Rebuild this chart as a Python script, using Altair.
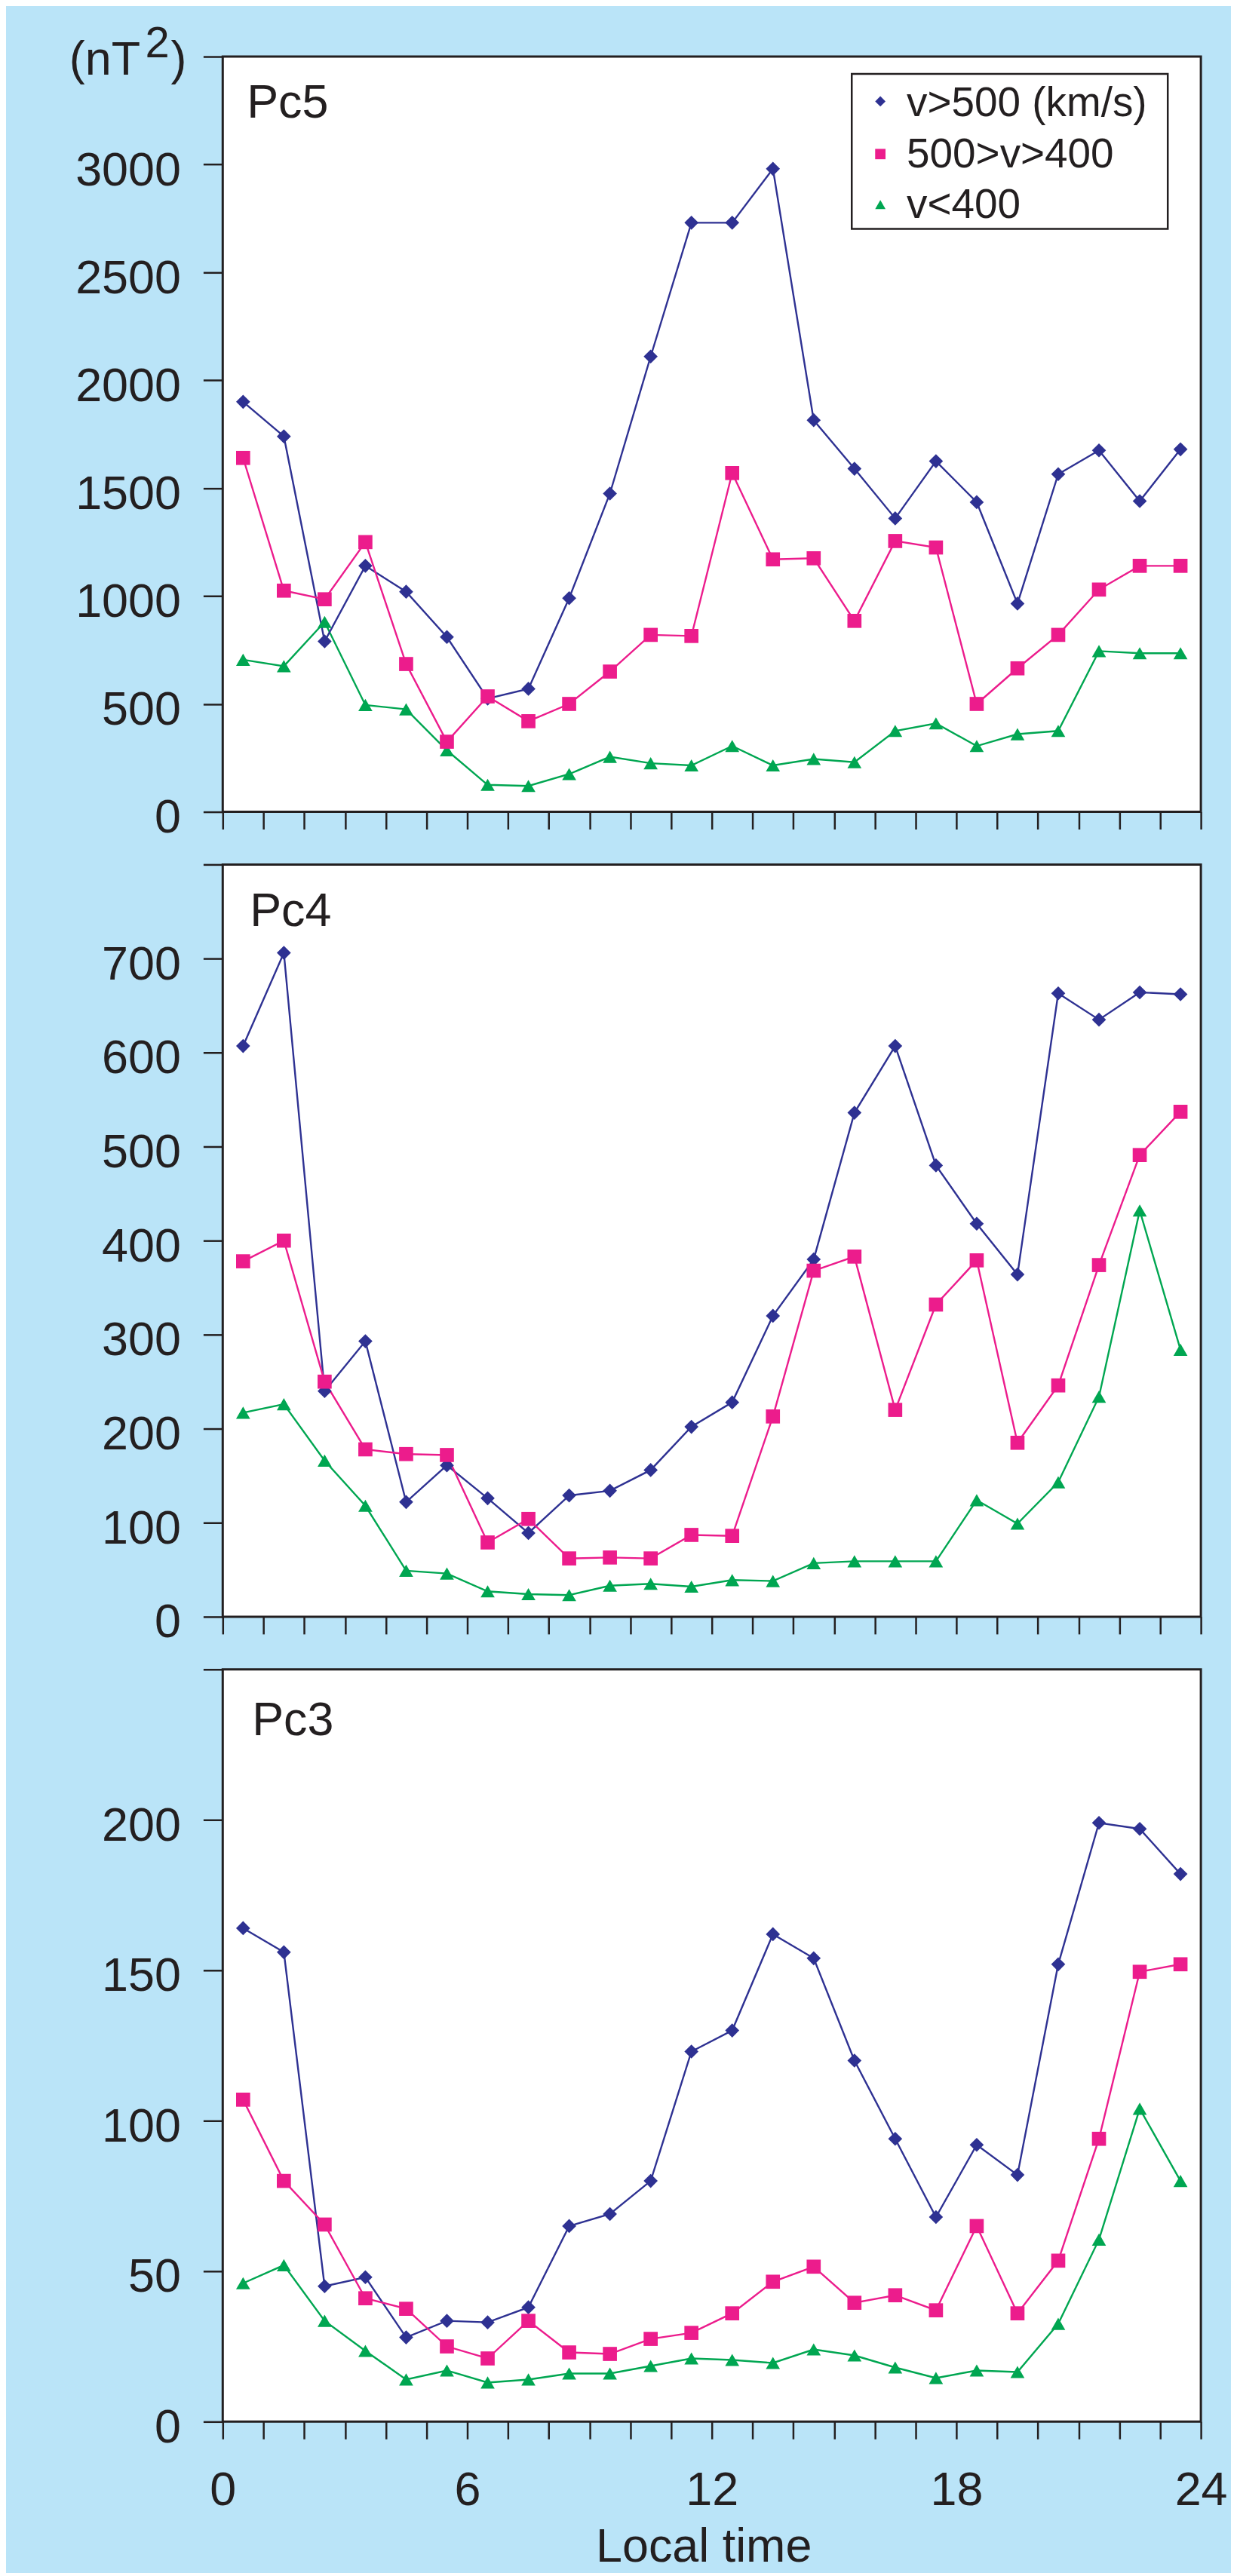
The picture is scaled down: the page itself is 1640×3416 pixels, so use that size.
import altair as alt
import pandas as pd

FONT = "Liberation Sans"
INK = "#231f20"
BG = "#bae4f8"

hours = [0.5, 1.5, 2.5, 3.5, 4.5, 5.5, 6.5, 7.5, 8.5, 9.5, 10.5, 11.5,
         12.5, 13.5, 14.5, 15.5, 16.5, 17.5, 18.5, 19.5, 20.5, 21.5, 22.5, 23.5]

series_names = ["v>500 (km/s)", "500>v>400", "v<400"]
series_colors = ["#2e3192", "#ec1c8c", "#00a651"]
series_shapes = ["diamond", "square", "triangle-up"]

# Pc5
pc5_fast = [1900, 1740, 790, 1140, 1020, 810, 525, 570, 990, 1475, 2110, 2730,
            2730, 2980, 1815, 1590, 1360, 1625, 1435, 965, 1565, 1675, 1440, 1680]
pc5_mid = [1640, 1025, 985, 1250, 685, 325, 535, 420, 500, 650, 820, 815,
           1570, 1170, 1175, 885, 1255, 1225, 500, 665, 820, 1030, 1140, 1140]
pc5_slow = [705, 675, 880, 495, 475, 285, 125, 120, 175, 255, 225, 215,
            305, 215, 245, 230, 375, 410, 305, 360, 375, 745, 735, 735]

# Pc4
pc4_fast = [607, 706, 240, 293, 122, 161, 126, 89, 129, 134, 156, 202,
            228, 320, 380, 536, 607, 480, 418, 364, 663, 635, 664, 662]
pc4_mid = [378, 400, 250, 178, 173, 172, 79, 104, 62, 63, 62, 87,
           86, 213, 368, 383, 220, 332, 379, 185, 246, 374, 491, 537]
pc4_slow = [217, 226, 166, 118, 49, 46, 27, 24, 23, 33, 35, 32,
            39, 38, 57, 59, 59, 59, 124, 99, 143, 234, 432, 284]

# Pc3
pc3_fast = [164, 156, 45, 48, 28, 33.5, 33, 38, 65, 69, 80, 123,
            130, 162, 154, 120, 94, 68, 92, 82, 152, 199, 197, 182]
pc3_mid = [107, 80, 65.5, 41, 37.5, 25, 21, 33.5, 23, 22.5, 27.5, 29.5,
           36, 46.5, 51.5, 39.5, 42, 37, 65, 36, 53.5, 94, 149.5, 152]
pc3_slow = [46, 52, 33.5, 23.5, 14, 17, 13, 14, 16, 16, 18.5, 21,
            20.5, 19.5, 24, 22, 18, 14.5, 17, 16.5, 32.5, 60.5, 104, 80]

x_ticks = list(range(0, 25))


def panel_df(fast, mid, slow):
    rows = []
    for name, vals in [(series_names[2], slow), (series_names[0], fast), (series_names[1], mid)]:
        for h, v in zip(hours, vals):
            rows.append({"hour": h, "value": v, "series": name})
    return pd.DataFrame(rows)


def text_layer(txt, x, y, size=63):
    return alt.Chart(pd.DataFrame({"t": [txt]})).mark_text(
        align="left", baseline="alphabetic", fontSize=size, font=FONT, color=INK
    ).encode(text="t:N", x=alt.value(x), y=alt.value(y))


def panel(df, name, ymax, ystep, height, bottom, name_pos, extra=()):
    yvals = list(range(0, ymax + 1, ystep))
    x_axis = alt.Axis(
        values=x_ticks, tickSize=23, labelFlush=False,
        labels=bottom, labelPadding=37,
        labelExpr="datum.value % 6 == 0 ? datum.label : ''",
        title="Local time" if bottom else None,
        titleX=639, titleY=186, titleBaseline="alphabetic", titleAlign="center",
    )
    y_axis = alt.Axis(
        values=yvals, tickSize=26, labelPadding=30, format="d", title=None,
        labelOffset=8,
        labelExpr=f"datum.value == {ymax} ? '' : datum.label",
    )
    x = alt.X("hour:Q", scale=alt.Scale(domain=[0, 24], nice=False, zero=False), axis=x_axis)
    y = alt.Y("value:Q", scale=alt.Scale(domain=[0, ymax], nice=False), axis=y_axis)
    base = alt.Chart(df)
    line = base.mark_line(strokeWidth=2.4).encode(
        x=x, y=y,
        stroke=alt.Stroke("series:N", scale=alt.Scale(domain=series_names, range=series_colors), legend=None),
        detail="series:N",
    )
    pts = base.mark_point(filled=True, size=350, opacity=1).encode(
        x=x, y=y,
        color=alt.Color("series:N", scale=alt.Scale(domain=series_names, range=series_colors), legend=None),
        shape=alt.Shape("series:N", scale=alt.Scale(domain=series_names, range=series_shapes), legend=None),
    )
    layers = list(extra) + [line, pts, text_layer(name, *name_pos)]
    return alt.layer(*layers).properties(width=1300, height=height)


# invisible sizing frame: fixes the overall canvas to the page size
canvas = alt.Chart(pd.DataFrame({"k": [0]})).mark_rect(opacity=0).encode(
    x=alt.value(-286), x2=alt.value(1338), y=alt.value(-61), y2=alt.value(3330)
)

# legend drawn inside the Pc5 panel (pixel placement of the key box)
legend_box = alt.Chart(pd.DataFrame({"k": [0]})).mark_rect(
    fill="white", stroke=INK, strokeWidth=2.5
).encode(x=alt.value(836), x2=alt.value(1256), y=alt.value(23), y2=alt.value(229))

legend_sym_y = [59.6, 129.6, 196.7]
legend_txt_y = [79.6, 147.4, 215]
legend_layers = [legend_box]
for i, nm in enumerate(series_names):
    legend_layers.append(
        alt.Chart(pd.DataFrame({"series": [nm]})).mark_point(
            filled=True, size=190, opacity=1, shape=series_shapes[i], color=series_colors[i]
        ).encode(x=alt.value(874), y=alt.value(legend_sym_y[i]))
    )
    legend_layers.append(text_layer(nm, 909, legend_txt_y[i], 55))

unit_text = [
    text_layer("(nT", -204, 24),
    text_layer("2", -103, 1, 58),
    text_layer(")", -69, 24),
]

p5 = panel(panel_df(pc5_fast, pc5_mid, pc5_slow), "Pc5", 3500, 500, 1004, False, (32, 81),
           [canvas] + unit_text + legend_layers)
p4 = panel(panel_df(pc4_fast, pc4_mid, pc4_slow), "Pc4", 800, 100, 1000, False, (36, 82))
p3 = panel(panel_df(pc3_fast, pc3_mid, pc3_slow), "Pc3", 250, 50, 1000, True, (39, 87))

chart = alt.vconcat(p5, p4, p3, spacing=70, bounds="flush").resolve_scale(
    x="independent", y="independent", color="independent", shape="independent", stroke="independent"
).properties(
    background=BG,
    padding={"left": 0, "top": 0, "right": 0, "bottom": -4},
).configure_view(
    stroke=INK, strokeWidth=3, fill="white"
).configure_axis(
    domain=False, grid=False, tickColor=INK, tickWidth=2.5,
    labelColor=INK, labelFont=FONT, labelFontSize=63,
    titleFont=FONT, titleFontSize=63, titleFontWeight="normal", titleColor=INK,
)

chart.save("out.html", embed_options={"renderer": "svg", "actions": False})
